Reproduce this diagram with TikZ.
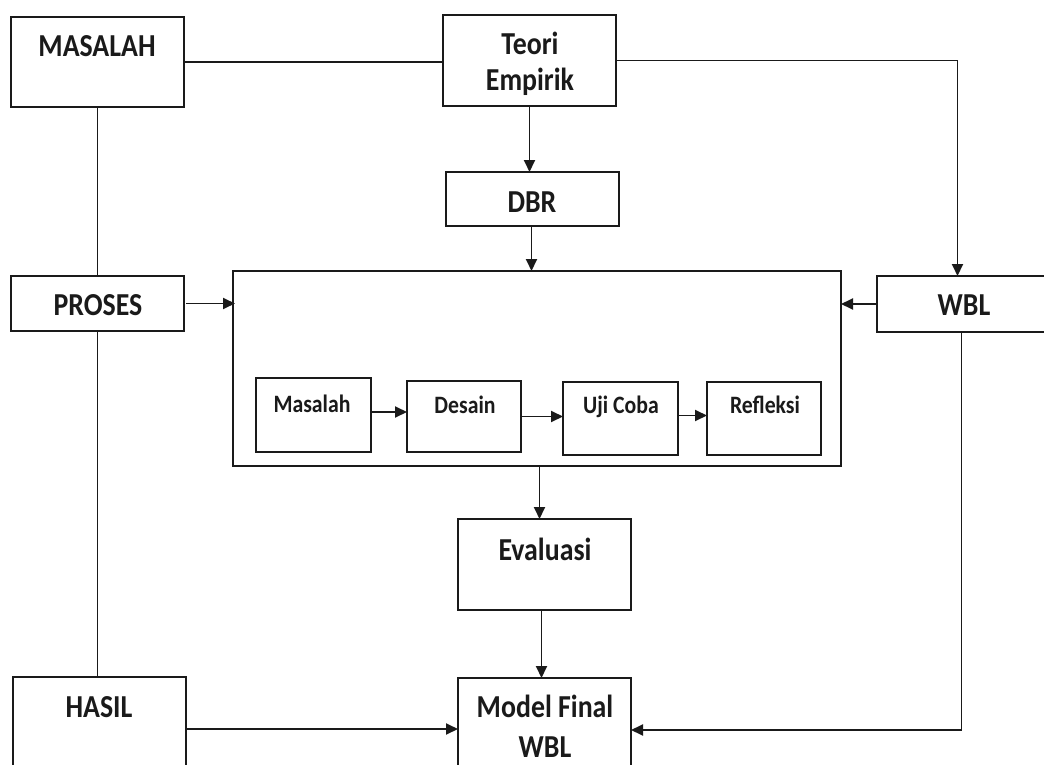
\documentclass[tikz,border=0pt]{standalone}
\usepackage{fontspec}
\setmainfont{Carlito}[FakeStretch=0.87]
\usetikzlibrary{arrows.meta}
\definecolor{ink}{HTML}{1A1A1A}
\tikzset{
  box/.style={draw=ink, line width=1.9pt, inner sep=0pt, outer sep=0pt, fill=white},
  big/.style={font=\fontsize{32}{38}\selectfont\bfseries, text=ink, anchor=base, inner sep=0pt},
  small/.style={font=\fontsize{25}{30}\selectfont\bfseries, text=ink, anchor=base, inner sep=0pt},
  conn/.style={draw=ink, line width=1.9pt},
  arr/.style={conn, -{Triangle[length=12pt,width=11pt]}}
}
\begin{document}
\begin{tikzpicture}[x=1pt,y=-1pt]
\clip (0,0) rectangle (1044,765);
\fill[white] (0,0) rectangle (1044,765);
% boxes
\node[box, minimum width=173pt, minimum height=90pt] (masalah) at (97.5,62) {};
\node[box, minimum width=173pt, minimum height=91pt] (teori) at (529.5,60.5) {};
\node[box, minimum width=173pt, minimum height=54pt] (dbr) at (532.5,199) {};
\node[box, minimum width=608pt, minimum height=195pt] (bigbox) at (537,368.5) {};
\node[box, minimum width=173pt, minimum height=55pt] (proses) at (97.5,303.5) {};
\node[box, minimum width=169pt, minimum height=56pt] (wbl) at (961.5,304) {};
\node[box, minimum width=115pt, minimum height=74pt] (m1) at (313.5,415) {};
\node[box, minimum width=114pt, minimum height=71pt] (desain) at (464,416.5) {};
\node[box, minimum width=115pt, minimum height=73pt] (uji) at (620.5,418.5) {};
\node[box, minimum width=114pt, minimum height=73pt] (refl) at (764,418.5) {};
\node[box, minimum width=173pt, minimum height=91pt] (eval) at (544.5,564.5) {};
\node[box, minimum width=173pt, minimum height=104pt] (model) at (544.5,730) {};
\node[box, minimum width=173pt, minimum height=104pt] (hasil) at (99.5,729) {};
% texts
\node[big] (t-masalah) at (97,57) {MASALAH};
\node[big] (t-teori1) at (530,55) {Teori};
\node[big] (t-teori2) at (530,91) {Empirik};
\node[big] (t-dbr) at (532,212) {DBR};
\node[big] (t-proses) at (98,315) {PROSES};
\node[big] (t-wbl) at (964,315) {WBL};
\node[small] (t-m1) at (312,412) {Masalah};
\node[small] (t-desain) at (465,413) {Desain};
\node[small] (t-uji) at (621,413) {Uji Coba};
\node[small] (t-refl) at (765,413) {Refleksi};
\node[big] (t-eval) at (545,560) {Evaluasi};
\node[big] (t-model1) at (545,717) {Model Final};
\node[big] (t-model2) at (545,757) {WBL};
\node[big] (t-hasil) at (99,717) {HASIL};
% connectors
\draw[conn] (masalah.east) -- (masalah.east -| teori.west);
\draw[arr] (teori.east) -| ([xshift=-4pt]wbl.north);
\draw[arr] (teori.south) -- (dbr.north -| teori.south);
\draw[arr] ([xshift=-1pt]dbr.south) -- ([xshift=-1pt]dbr.south |- bigbox.north);
\draw[conn] (masalah.south) -- (proses.north);
\draw[conn] (proses.south) -- (proses.south |- hasil.north);
\draw[arr] ([xshift=2pt]proses.east) -- ([xshift=2pt]proses.east -| bigbox.west);
\draw[arr] (wbl.west) -- (wbl.west -| bigbox.east);
\draw[arr] ([yshift=3pt]m1.east) -- ([yshift=3pt]m1.east -| desain.west);
\draw[arr] (desain.east) -- (desain.east -| uji.west);
\draw[arr] ([yshift=3pt]uji.east) -- ([yshift=3pt]uji.east -| refl.west);
\draw[arr] ([xshift=-5pt]eval.north |- bigbox.south) -- ([xshift=-5pt]eval.north);
\draw[arr] ([xshift=-3pt]eval.south) -- ([xshift=-3pt]model.north);
\draw[arr] (hasil.east) -- (hasil.east -| model.west);
\draw[arr] (wbl.south) |- (model.east);
\end{tikzpicture}
\end{document}
